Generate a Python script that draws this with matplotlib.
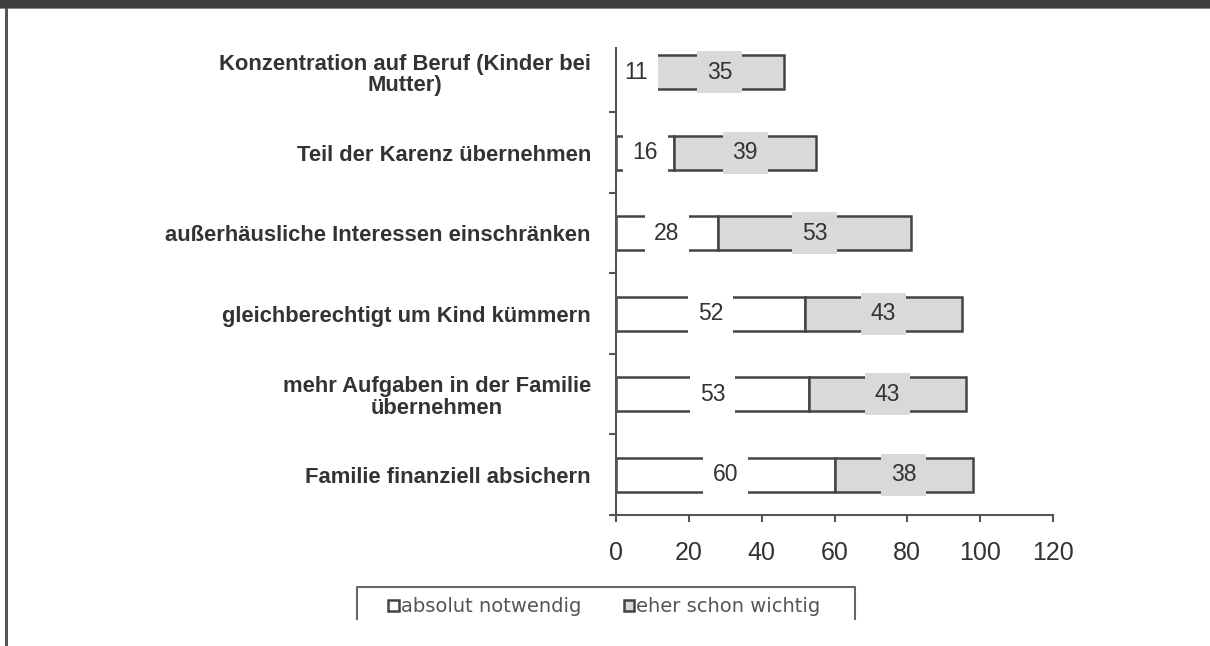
import numpy as np
import matplotlib.pyplot as plt
from matplotlib.patches import Rectangle
from matplotlib.lines import Line2D

# data, top to bottom as in the chart
categories = [
    "Konzentration auf Beruf (Kinder bei\nMutter)",
    "Teil der Karenz übernehmen",
    "außerhäusliche Interessen einschränken",
    "gleichberechtigt um Kind kümmern",
    "mehr Aufgaben in der Familie\nübernehmen",
    "Familie finanziell absichern",
]
absolut_notwendig = [11, 16, 28, 52, 53, 60]
eher_schon_wichtig = [35, 39, 53, 43, 43, 38]
series_names = ["absolut notwendig", "eher schon wichtig"]
x_ticks = [0, 20, 40, 60, 80, 100, 120]

plt.rcParams['font.family'] = ['Liberation Sans', 'DejaVu Sans']

edge = '#444444'
grey = '#d9d9d9'
txt = '#333333'

fig = plt.figure(figsize=(12.1, 6.46), dpi=100)
W, H = 1210, 646
ax = fig.add_axes([616 / W, 1 - 515 / H, (1053 - 616) / W, (515 - 48) / H])

y = np.arange(len(categories))
a = np.array(absolut_notwendig)
b = np.array(eher_schon_wichtig)

ax.barh(y, a, height=0.42, color='white', edgecolor=edge, linewidth=1.8, zorder=1.5)
ax.barh(y, b, left=a, height=0.42, color=grey, edgecolor=edge, linewidth=1.8, zorder=1.5)

# value labels with boxes that hide the bar outline (spines stay on top)
for yi, v1, v2 in zip(y, a, b):
    ax.text(v1 / 2, yi, str(v1), ha='center', va='center', fontsize=16.5, color=txt, zorder=2.2,
            bbox=dict(boxstyle='square,pad=0.42', fc='white', ec='none'))
    ax.text(v1 + v2 / 2, yi, str(v2), ha='center', va='center', fontsize=16.5, color=txt, zorder=2.2,
            bbox=dict(boxstyle='square,pad=0.42', fc=grey, ec='none'))

ax.set_xlim(0, 120)
ax.set_ylim(5.5, -0.3)
ax.set_xticks(x_ticks)
ax.set_xticklabels([str(t) for t in x_ticks], fontsize=18, color=txt)
ax.set_yticks(y)
ax.set_yticklabels(categories, fontsize=15.8, fontweight='bold', color=txt,
                   multialignment='center', linespacing=1.05)
ax.set_yticks(np.arange(-0.5, 6, 1.0)[1:], minor=True)
ax.tick_params(axis='y', which='major', length=0, pad=18)
ax.tick_params(axis='y', which='minor', length=5, width=1.5, color='#555555', direction='out')
ax.tick_params(axis='x', length=5, width=1.5, color='#555555', direction='out', pad=14)

for s in ['top', 'right']:
    ax.spines[s].set_visible(False)
for s in ['left', 'bottom']:
    ax.spines[s].set_color('#555555')
    ax.spines[s].set_linewidth(1.5)

# legend (box cut at the bottom, as in the scanned page)
h1 = Rectangle((0, 0), 1, 1, fc='white', ec=edge, lw=1.8)
h2 = Rectangle((0, 0), 1, 1, fc=grey, ec=edge, lw=1.8)
fig.legend([h1, h2], series_names, loc='center left', ncol=2,
           bbox_to_anchor=(388 / W, 1 - 607 / H), frameon=False,
           handlelength=0.55, handleheight=0.55, handletextpad=0.1, columnspacing=2.2,
           borderpad=0, borderaxespad=0,
           labelcolor='#555555', prop={'family': 'DejaVu Sans', 'size': 14})
fx = [357 / W, 357 / W, 855 / W, 855 / W]
fy = [1 - 619 / H, 1 - 587 / H, 1 - 587 / H, 1 - 619 / H]
fig.lines.append(Line2D(fx, fy, transform=fig.transFigure, color='#666666', lw=1.5))

# frame of the scanned page
fig.patches.append(Rectangle((0, 1 - 8 / H), 1, 8 / H, transform=fig.transFigure,
                             fc='#3d3d3d', ec='none', zorder=10))
fig.patches.append(Rectangle((0, 1 - 9 / H), 1, 1 / H, transform=fig.transFigure,
                             fc='#888888', ec='none', zorder=10))
fig.patches.append(Rectangle((5 / W, 0), 2.5 / W, 1 - 8 / H, transform=fig.transFigure,
                             fc='#555555', ec='none', zorder=10))

fig.savefig('out.png', dpi=100, facecolor='white')
